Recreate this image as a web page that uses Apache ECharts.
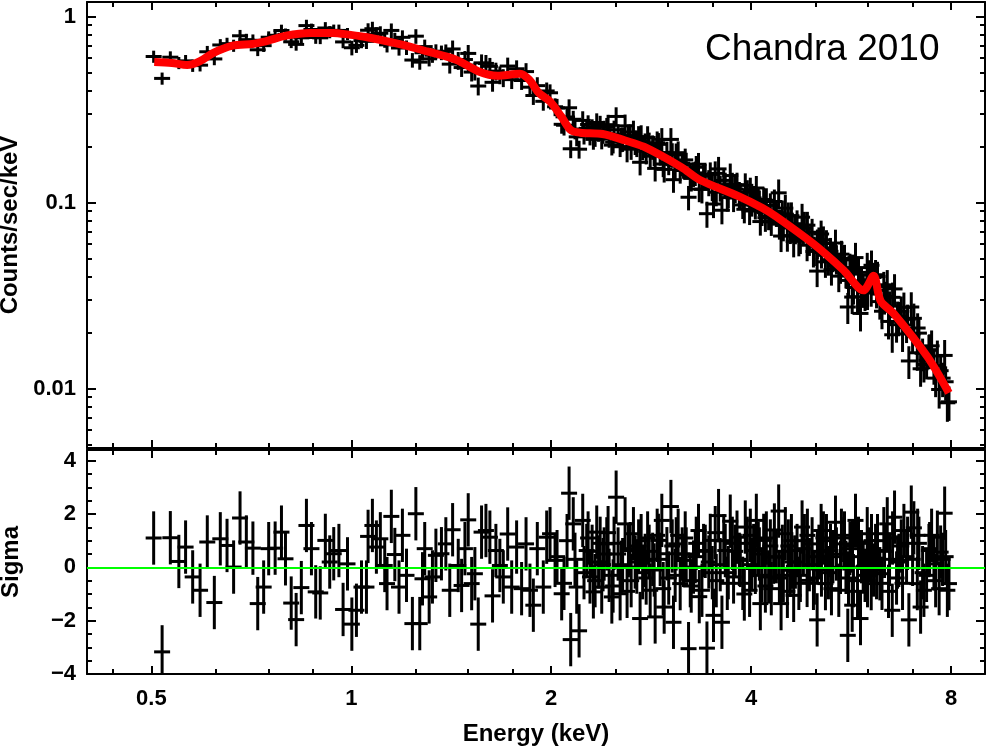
<!DOCTYPE html>
<html>
<head>
<meta charset="utf-8">
<title>Chandra 2010 spectrum</title>
<script src="https://cdn.jsdelivr.net/npm/echarts@6/dist/echarts.min.js"></script>
<style>
  html, body { margin: 0; padding: 0; background: #fff; }
  #main { width: 988px; height: 750px; }
</style>
</head>
<body>
<div id="main"></div>
<script>
// axis ticks
const xMajor = [0.5, 1, 2, 4, 8];
const xMinor = [0.4375, 0.625, 0.75, 0.875, 1.25, 1.5, 1.75, 2.5, 3, 3.5, 5, 6, 7];
const rateMajor = [0.01, 0.1, 1];
const rateMinor = [0.005, 0.006, 0.007, 0.008, 0.009, 0.02, 0.03, 0.04, 0.05, 0.06, 0.07, 0.08, 0.09,
  0.2, 0.3, 0.4, 0.5, 0.6, 0.7, 0.8, 0.9];
const sigmaMajor = [-4, -2, 0, 2, 4];
const sigmaMinor = [-3.5, -3, -2.5, -1.5, -1, -0.5, 0.5, 1, 1.5, 2.5, 3, 3.5];

// model curve (keV, counts/sec/keV)
const modelEnergy = [0.505, 0.537, 0.566, 0.591, 0.619, 0.663, 0.710, 0.743, 0.798, 0.867,
  0.938, 0.992, 1.052, 1.183, 1.30, 1.438, 1.555, 1.660, 1.795, 1.854,
  1.915, 1.992, 2.071, 2.140, 2.210, 2.390, 2.585, 2.757, 3.14, 3.35,
  3.82, 4.16, 4.35, 4.96, 5.51, 5.906, 6.115, 6.266, 6.554, 7.376, 7.94];
const modelRate = [0.571, 0.564, 0.550, 0.575, 0.638, 0.699, 0.714, 0.737, 0.791, 0.818,
  0.818, 0.801, 0.778, 0.712, 0.651, 0.587, 0.508, 0.482, 0.494, 0.458,
  0.390, 0.350, 0.291, 0.246, 0.238, 0.234, 0.216, 0.200, 0.1554, 0.1325,
  0.1089, 0.0937, 0.0848, 0.0602, 0.0434, 0.0338, 0.0405, 0.0297, 0.0254, 0.0148, 0.0095];

// data points: energy (keV), rate (counts/sec/keV), relative error, residual (sigma)
const energy = [
  0.504, 0.519, 0.534, 0.550, 0.563, 0.577, 0.592, 0.607, 0.622, 0.635,
  0.650, 0.665, 0.680, 0.695, 0.711, 0.723, 0.738, 0.751, 0.768, 0.785,
  0.796, 0.812, 0.826, 0.841, 0.856, 0.871, 0.884, 0.898, 0.914, 0.928,
  0.941, 0.958, 0.972, 0.987, 1.002, 1.018, 1.036, 1.054, 1.060, 1.076,
  1.091, 1.106, 1.123, 1.132, 1.149, 1.163, 1.180, 1.194, 1.211, 1.236,
  1.251, 1.268, 1.280, 1.290, 1.310, 1.325, 1.341, 1.367, 1.388, 1.407,
  1.421, 1.449, 1.466, 1.483, 1.500, 1.518, 1.535, 1.553, 1.571, 1.595,
  1.617, 1.632, 1.651, 1.674, 1.694, 1.720, 1.744, 1.774, 1.805, 1.833,
  1.858, 1.880, 1.906, 1.946, 1.969,
  1.992, 2.027, 2.074, 2.128, 2.140, 2.159, 2.185, 2.203, 2.231, 2.262,
  2.288, 2.315, 2.342, 2.383, 2.425, 2.468, 2.505, 2.540, 2.584, 2.614,
  2.660, 2.691, 2.722, 2.770, 2.819, 2.868, 2.901, 2.935, 2.959, 2.987,
  3.029, 3.056, 3.085, 3.128, 3.164, 3.220, 3.276, 3.333, 3.373, 3.392,
  3.432, 3.472, 3.511, 3.573, 3.615, 3.657, 3.721, 3.764, 3.809, 3.853,
  3.920, 3.979, 4.035, 4.073, 4.130, 4.178, 4.250, 4.325, 4.401, 4.438,
  4.504, 4.583, 4.636, 4.691, 4.773, 4.857, 4.942, 5.029, 5.099, 5.176,
  5.267, 5.359, 5.421, 5.516, 5.593, 5.679, 5.744, 5.845, 5.900, 5.983,
  6.066, 6.158, 6.250, 6.337, 6.413, 6.525, 6.577, 6.676, 6.794, 6.912,
  6.970, 7.033, 7.117, 7.199, 7.282, 7.410, 7.540, 7.630, 7.717, 7.825,
  7.899, 7.943,
  2.357, 2.403, 2.445, 2.487, 2.562, 2.639, 2.708, 2.746, 2.794, 2.843,
  3.006, 3.106, 3.194, 3.250, 3.307, 3.454, 3.545, 3.638, 3.696, 3.786,
  3.886, 3.948, 4.010, 4.101, 4.154, 4.217, 4.290, 4.366, 4.473, 4.551,
  4.615, 4.720, 4.812, 4.896, 4.981, 5.060, 5.140, 5.230, 5.312, 5.471,
  5.557, 5.635, 5.704, 5.804, 5.937, 6.024, 6.115, 6.200, 6.297, 6.464,
  6.623, 6.732, 6.857, 7.157, 7.350, 7.479, 7.677, 7.770,
  2.041, 2.091, 2.113, 2.172, 2.241, 2.273, 2.305, 2.329, 2.370, 2.394,
  2.436, 2.479, 2.522, 2.549, 2.602, 2.630, 2.676, 2.732, 2.780, 2.809,
  2.858, 2.888, 2.918, 2.949, 3.043, 3.074, 3.150, 3.183, 3.239, 3.296,
  3.342, 3.412, 3.496, 3.532, 3.594, 3.683, 3.748, 3.840, 3.907, 3.989,
  4.059, 4.116, 4.203, 4.276, 4.336, 4.412, 4.458, 4.536, 4.600, 4.664,
  4.745, 4.795, 4.862, 4.965, 5.034, 5.105, 5.194, 5.285, 5.377, 5.453,
  5.529, 5.607, 5.685, 5.785, 5.865, 5.989, 6.072, 6.179, 6.353, 6.441,
  6.532, 6.646, 6.762, 6.881, 7.002, 7.125, 7.249, 7.427, 7.584, 7.852
];
const rate = [
  0.611, 0.466, 0.606, 0.565, 0.579, 0.546, 0.549, 0.648, 0.593, 0.705,
  0.717, 0.700, 0.790, 0.753, 0.747, 0.664, 0.699, 0.776, 0.795, 0.843,
  0.804, 0.733, 0.710, 0.770, 0.896, 0.854, 0.773, 0.770, 0.870, 0.828,
  0.844, 0.844, 0.732, 0.809, 0.681, 0.702, 0.744, 0.737, 0.846, 0.862,
  0.805, 0.815, 0.748, 0.706, 0.844, 0.752, 0.679, 0.775, 0.684, 0.585,
  0.786, 0.570, 0.640, 0.691, 0.594, 0.621, 0.652, 0.642, 0.651, 0.556,
  0.671, 0.582, 0.533, 0.589, 0.635, 0.504, 0.510, 0.424, 0.565, 0.561,
  0.541, 0.444, 0.510, 0.487, 0.470, 0.543, 0.459, 0.525, 0.454, 0.507,
  0.418, 0.377, 0.426, 0.351, 0.399,
  0.390, 0.328, 0.264, 0.324, 0.195, 0.281, 0.226, 0.194, 0.277, 0.251,
  0.231, 0.219, 0.270, 0.220, 0.255, 0.204, 0.291, 0.200, 0.259, 0.229,
  0.240, 0.207, 0.165, 0.205, 0.178, 0.153, 0.206, 0.219, 0.151, 0.185,
  0.219, 0.133, 0.181, 0.149, 0.160, 0.107, 0.143, 0.161, 0.118, 0.141,
  0.0873, 0.142, 0.0984, 0.152, 0.0911, 0.125, 0.140, 0.106, 0.125, 0.110,
  0.124, 0.0903, 0.106, 0.120, 0.0792, 0.104, 0.0847, 0.0897, 0.113, 0.0662,
  0.0935, 0.0731, 0.0620, 0.0771, 0.0836, 0.0591, 0.0694, 0.0429, 0.0679, 0.0481,
  0.0548, 0.0607, 0.0403, 0.0493, 0.0275, 0.0311, 0.0507, 0.0254, 0.0340, 0.0448,
  0.0345, 0.0410, 0.0294, 0.0354, 0.0362, 0.0195, 0.0344, 0.0244, 0.0274, 0.0141,
  0.0275, 0.0239, 0.0156, 0.0128, 0.0135, 0.0161, 0.0133, 0.0150, 0.0125, 0.0151,
  0.0084, 0.0085,
  0.2415, 0.2463, 0.2244, 0.2466, 0.2207, 0.2000, 0.2244, 0.1991, 0.2241, 0.2001,
  0.1654, 0.1857, 0.1614, 0.1351, 0.1551, 0.1290, 0.1139, 0.1318, 0.1110, 0.1185,
  0.0973, 0.1139, 0.1002, 0.1034, 0.0892, 0.1031, 0.0789, 0.0883, 0.0756, 0.0850,
  0.0749, 0.0628, 0.0757, 0.0631, 0.0557, 0.0624, 0.0632, 0.0494, 0.0516, 0.0529,
  0.0422, 0.0447, 0.0350, 0.0422, 0.0327, 0.0409, 0.0396, 0.0401, 0.0261, 0.0278,
  0.0221, 0.0261, 0.0220, 0.0199, 0.0142, 0.0170, 0.0099, 0.0114,
  0.323, 0.261, 0.289, 0.249, 0.2336, 0.2635, 0.2508, 0.2269, 0.2595, 0.2383,
  0.2628, 0.2116, 0.2336, 0.2199, 0.1940, 0.2293, 0.2124, 0.2268, 0.1890, 0.2071,
  0.1852, 0.2101, 0.1861, 0.1615, 0.1816, 0.1576, 0.1633, 0.1699, 0.1365, 0.1447,
  0.1184, 0.1390, 0.1213, 0.1438, 0.1207, 0.1066, 0.1249, 0.1114, 0.0922, 0.1175,
  0.0967, 0.1003, 0.0830, 0.0968, 0.1015, 0.0772, 0.0871, 0.0665, 0.0851, 0.0729,
  0.0646, 0.0729, 0.0757, 0.0547, 0.0608, 0.0540, 0.0603, 0.0437, 0.0501, 0.0447,
  0.0503, 0.0382, 0.0442, 0.0312, 0.0372, 0.0331, 0.0461, 0.0338, 0.0313, 0.0230,
  0.0310, 0.0245, 0.0197, 0.0236, 0.0197, 0.0212, 0.0155, 0.0162, 0.0114, 0.0109
];
const relErr = [
  0.075, 0.075, 0.075, 0.075, 0.075, 0.075, 0.075, 0.075, 0.075, 0.075,
  0.075, 0.075, 0.075, 0.075, 0.075, 0.075, 0.075, 0.075, 0.075, 0.075,
  0.075, 0.075, 0.075, 0.075, 0.075, 0.075, 0.075, 0.075, 0.075, 0.075,
  0.075, 0.075, 0.075, 0.075, 0.09, 0.09, 0.09, 0.09, 0.09, 0.09,
  0.09, 0.09, 0.09, 0.09, 0.09, 0.09, 0.09, 0.09, 0.09, 0.09,
  0.09, 0.09, 0.09, 0.09, 0.09, 0.09, 0.09, 0.09, 0.09, 0.11,
  0.11, 0.11, 0.11, 0.11, 0.11, 0.11, 0.11, 0.11, 0.11, 0.11,
  0.11, 0.11, 0.11, 0.11, 0.11, 0.11, 0.11, 0.11, 0.11, 0.11,
  0.11, 0.11, 0.11, 0.11, 0.11,
  0.11, 0.11, 0.11, 0.11, 0.11, 0.11, 0.11, 0.11, 0.12, 0.12,
  0.12, 0.12, 0.12, 0.12, 0.12, 0.12, 0.12, 0.12, 0.15, 0.15,
  0.15, 0.15, 0.15, 0.15, 0.15, 0.15, 0.15, 0.15, 0.15, 0.15,
  0.15, 0.15, 0.15, 0.15, 0.15, 0.15, 0.15, 0.15, 0.16, 0.16,
  0.16, 0.16, 0.16, 0.16, 0.16, 0.16, 0.16, 0.16, 0.16, 0.16,
  0.16, 0.16, 0.16, 0.16, 0.16, 0.16, 0.16, 0.16, 0.18, 0.18,
  0.18, 0.18, 0.18, 0.18, 0.18, 0.18, 0.18, 0.18, 0.18, 0.18,
  0.18, 0.18, 0.18, 0.19, 0.19, 0.19, 0.2, 0.2, 0.2, 0.2,
  0.2, 0.2, 0.2, 0.2, 0.2, 0.2, 0.2, 0.2, 0.2, 0.2,
  0.2, 0.2, 0.2, 0.2, 0.2, 0.21, 0.21, 0.21, 0.21, 0.21,
  0.21, 0.21,
  0.12, 0.12, 0.12, 0.12, 0.15, 0.15, 0.15, 0.15, 0.15, 0.15,
  0.15, 0.15, 0.15, 0.15, 0.15, 0.16, 0.16, 0.16, 0.16, 0.16,
  0.16, 0.16, 0.16, 0.16, 0.16, 0.16, 0.16, 0.16, 0.18, 0.18,
  0.18, 0.18, 0.18, 0.18, 0.18, 0.18, 0.18, 0.18, 0.18, 0.18,
  0.18, 0.19, 0.19, 0.2, 0.2, 0.2, 0.2, 0.2, 0.2, 0.2,
  0.2, 0.2, 0.2, 0.2, 0.21, 0.21, 0.21, 0.21,
  0.12, 0.12, 0.12, 0.12, 0.12, 0.12, 0.12, 0.12, 0.13, 0.13,
  0.13, 0.13, 0.13, 0.15, 0.15, 0.15, 0.15, 0.15, 0.15, 0.15,
  0.15, 0.15, 0.15, 0.15, 0.15, 0.15, 0.15, 0.15, 0.15, 0.15,
  0.15, 0.16, 0.16, 0.16, 0.16, 0.16, 0.16, 0.16, 0.16, 0.16,
  0.16, 0.16, 0.16, 0.16, 0.16, 0.18, 0.18, 0.18, 0.18, 0.18,
  0.18, 0.18, 0.18, 0.18, 0.18, 0.18, 0.18, 0.18, 0.18, 0.18,
  0.18, 0.19, 0.19, 0.2, 0.2, 0.2, 0.2, 0.2, 0.2, 0.2,
  0.2, 0.2, 0.2, 0.2, 0.2, 0.2, 0.2, 0.21, 0.21, 0.21
];
const sigma = [
  1.10, -3.17, 1.11, 0.22, 0.76, -0.36, -0.86, 0.95, -1.32, 1.07,
  0.82, 0.01, 1.85, 0.95, 0.72, -1.36, -0.74, 0.70, 0.72, 1.32,
  0.32, -1.34, -1.96, -0.76, 1.57, 0.70, -0.92, -0.96, 1.01, 0.20,
  0.51, 0.63, -1.58, 0.13, -2.13, -1.61, -0.74, -0.74, 1.16, 1.57,
  0.76, 1.07, 0.07, -0.61, 1.91, 0.48, -0.74, 1.20, -0.30, -2.11,
  2.01, -2.11, -0.43, 0.70, -1.11, -0.36, 0.45, 0.51, 0.88, -0.86,
  1.41, 0.07, -0.68, 0.70, 1.78, -0.61, -0.24, -2.13, 1.32, 1.38,
  1.13, -1.07, 0.63, 0.07, -0.36, 1.25, -0.74, 0.76, -0.80, 0.88,
  -0.86, -1.42, 0.70, -0.74, 1.13,
  1.26, 0.26, -0.99, 2.78, -2.71, 1.63, -0.74, -2.38, 1.76, 0.63,
  -0.36, -0.92, 1.32, -0.74, 0.88, -1.11, 2.63, -0.99, 1.63, 0.63,
  1.26, 0.01, -1.92, 0.26, -0.86, -1.86, 1.01, 1.76, -1.49, 0.51,
  2.28, -2.06, 0.88, -0.61, 0.26, -3.05, 0.01, 1.38, -0.86, 0.63,
  -3.03, 1.01, -1.80, 1.94, -2.06, 0.63, 1.73, -0.36, 1.13, 0.26,
  1.51, -0.86, 0.63, 1.76, -1.36, 1.01, -0.36, 0.38, 2.11, -1.36,
  1.26, -0.11, -1.05, 0.63, 1.51, -0.49, 0.88, -1.97, 1.38, -0.61,
  0.63, 1.69, -0.86, 0.88, -2.55, -1.42, 1.76, -1.92, 0.01, 1.26,
  -0.61, 0.63, -0.24, 1.26, 1.63, -1.61, 1.88, 0.26, 1.38, -1.97,
  2.07, 1.48, -0.61, -1.49, -0.86, 0.63, 0.13, 1.13, 0.57, 2.03,
  -0.86, -0.61,
  0.2, 0.5, -0.3, 0.9, 0.1, -0.5, 0.8, -0.2, 1.1, 0.3,
  -0.4, 1.2, 0.5, -0.7, 0.9, 0.2, -0.5, 1.0, -0.2, 0.6,
  -0.6, 0.9, 0.1, 0.7, -0.3, 1.1, -0.8, 0.4, -0.3, 0.8,
  0.2, -0.6, 1.0, 0.1, -0.4, 0.6, 1.1, -0.2, 0.4, 1.2,
  0.0, 0.7, -0.5, 0.9, -0.3, 0.5, -0.1, 1.0, -0.6, 0.3,
  -0.4, 0.8, 0.4, 0.9, -0.3, 1.2, -0.8, 0.3,
  0.4, -0.6, 1.0, 0.3, -0.2, 1.1, 0.6, -0.5, 0.9, 0.1,
  1.3, -0.7, 0.5, 0.0, -0.9, 0.7, 0.2, 1.0, -0.4, 0.6,
  -0.1, 1.2, 0.3, -0.8, 0.8, -0.3, 0.5, 1.1, -0.5, 0.4,
  -1.1, 0.6, -0.2, 1.3, 0.1, -0.6, 0.9, 0.3, -1.0, 1.2,
  0.0, 0.5, -0.7, 0.8, 1.4, -0.4, 0.6, -0.9, 1.0, 0.2,
  -0.3, 0.7, 1.2, -0.6, 0.4, -0.1, 1.0, -0.8, 0.5, 0.0,
  1.1, -0.4, 0.8, -0.9, 0.4, -0.5, 1.0, -0.2, 0.6, -0.9,
  1.1, 0.2, -0.6, 0.9, 0.3, 1.2, -0.2, 0.7, -0.5, 0.4
];

const FONT = '"Liberation Sans", Arial, Helvetica, sans-serif';
const HALF_BAR = 8;  // px, horizontal arm of each cross

const chart = echarts.init(document.getElementById('main'), null, { renderer: 'canvas' });

const frameLine = { show: true, onZero: false, lineStyle: { color: '#000', width: 2 } };
const noLine = { show: false, onZero: false };
const tickLabel = {
  show: true, color: '#000', fontFamily: FONT, fontWeight: 'bold', fontSize: 22
};
const axisName = { color: '#000', fontFamily: FONT, fontWeight: 'bold', fontSize: 24 };

function xAxisFor(grid, pos, ticks, len, line, label) {
  return {
    type: 'log', logBase: 2, gridIndex: grid, position: pos, min: 0.4, max: 9,
    axisLine: line ? frameLine : noLine,
    axisTick: { show: true, inside: true, length: len, customValues: ticks,
      lineStyle: { color: '#000', width: 2 } },
    axisLabel: label ? Object.assign({ customValues: xMajor, margin: 14 }, tickLabel) : { show: false },
    splitLine: { show: false }
  };
}

function yAxisFor(grid, pos, ticks, len, line, label, range) {
  const ax = {
    gridIndex: grid, position: pos, min: range[0], max: range[1],
    axisLine: line ? frameLine : noLine,
    axisTick: { show: true, inside: true, length: len, customValues: ticks,
      lineStyle: { color: '#000', width: 2 } },
    axisLabel: { show: false },
    splitLine: { show: false }
  };
  if (grid === 0) { ax.type = 'log'; ax.logBase = 10; } else { ax.type = 'value'; }
  if (label) {
    ax.axisLabel = Object.assign({ customValues: label, margin: 11 }, tickLabel);
    if (grid === 1) {
      ax.axisLabel.formatter = v => (v < 0 ? '\u2212' + Math.abs(v) : String(v));
    }
  }
  return ax;
}

const rateRange = [0.0048, 1.2];
const sigmaRange = [-4, 4.4];

const xAxes = [
  xAxisFor(0, 'bottom', xMajor, 8, true, false),
  xAxisFor(0, 'bottom', xMinor, 5, false, false),
  xAxisFor(0, 'top', xMajor, 8, true, false),
  xAxisFor(0, 'top', xMinor, 5, false, false),
  xAxisFor(1, 'bottom', xMajor, 8, true, true),
  xAxisFor(1, 'bottom', xMinor, 5, false, false),
  xAxisFor(1, 'top', xMajor, 8, true, false),
  xAxisFor(1, 'top', xMinor, 5, false, false)
];
xAxes[4].name = 'Energy (keV)';
xAxes[4].nameLocation = 'middle';
xAxes[4].nameGap = 48;
xAxes[4].nameTextStyle = axisName;

const yAxes = [
  yAxisFor(0, 'left', rateMajor, 9, true, rateMajor, rateRange),
  yAxisFor(0, 'left', rateMinor, 5, false, null, rateRange),
  yAxisFor(0, 'right', rateMajor, 9, true, null, rateRange),
  yAxisFor(0, 'right', rateMinor, 5, false, null, rateRange),
  yAxisFor(1, 'left', sigmaMajor, 9, true, sigmaMajor, sigmaRange),
  yAxisFor(1, 'left', sigmaMinor, 5, false, null, sigmaRange),
  yAxisFor(1, 'right', sigmaMajor, 9, true, null, sigmaRange),
  yAxisFor(1, 'right', sigmaMinor, 5, false, null, sigmaRange)
];
yAxes[0].name = 'Counts/sec/keV';
yAxes[4].name = 'Sigma';
[0, 4].forEach(i => {
  yAxes[i].nameLocation = 'middle';
  yAxes[i].nameGap = 64;
  yAxes[i].nameTextStyle = axisName;
});

function drawCross(params, api) {
  const c = api.coord([api.value(0), api.value(1)]);
  const lo = api.coord([api.value(0), api.value(2)]);
  const hi = api.coord([api.value(0), api.value(3)]);
  const style = { stroke: '#000', lineWidth: 3 };
  return {
    type: 'group',
    children: [
      { type: 'line', shape: { x1: c[0], y1: lo[1], x2: c[0], y2: hi[1] }, style: style },
      { type: 'line', shape: { x1: c[0] - HALF_BAR, y1: c[1], x2: c[0] + HALF_BAR, y2: c[1] }, style: style }
    ]
  };
}

const spectrumData = energy.map((e, i) => [e, rate[i], rate[i] * (1 - relErr[i]), rate[i] * (1 + relErr[i])]);
const residualData = energy.map((e, i) => [e, sigma[i], sigma[i] - 1, sigma[i] + 1]);
const modelData = modelEnergy.map((e, i) => [e, modelRate[i]]);

const option = {
  animation: false,
  backgroundColor: '#fff',
  grid: [
    { left: 87, right: 3, top: 2, height: 446, containLabel: false, outerBoundsMode: 'none' },
    { left: 87, right: 3, top: 450, height: 224, containLabel: false, outerBoundsMode: 'none' }
  ],
  xAxis: xAxes,
  yAxis: yAxes,
  graphic: [{
    type: 'text', x: 705, y: 50,
    style: { text: 'Chandra 2010', fill: '#000', font: '37px ' + FONT, align: 'left', verticalAlign: 'middle' }
  }],
  series: [
    {
      type: 'custom', name: 'data', xAxisIndex: 0, yAxisIndex: 0, clip: true, z: 2,
      renderItem: drawCross, encode: { x: 0, y: [1, 2, 3] }, data: spectrumData
    },
    {
      type: 'line', name: 'model', xAxisIndex: 0, yAxisIndex: 0, z: 5,
      data: modelData, smooth: 0.3, symbol: 'none',
      lineStyle: { color: '#ff0000', width: 8 }
    },
    {
      type: 'custom', name: 'residuals', xAxisIndex: 4, yAxisIndex: 4, clip: true, z: 2,
      renderItem: drawCross, encode: { x: 0, y: [1, 2, 3] }, data: residualData,
      markLine: {
        silent: true, symbol: 'none', label: { show: false }, z: 6,
        lineStyle: { color: '#00ff00', width: 2, type: 'solid' },
        data: [{ yAxis: 0 }]
      }
    }
  ]
};

chart.setOption(option);
</script>
</body>
</html>
